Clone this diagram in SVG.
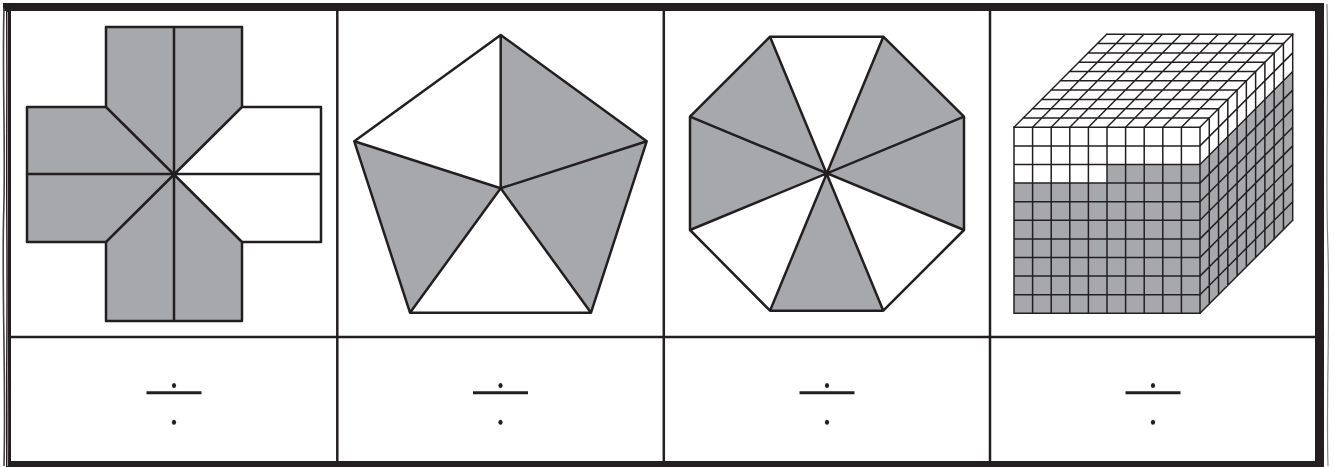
<svg xmlns="http://www.w3.org/2000/svg" width="1334" height="467" viewBox="0 0 1334 467">
<style>
.g{fill:#a7a8ab}
.w{fill:#ffffff}
.s{stroke:#231f20;stroke-width:2.5;stroke-linejoin:round;stroke-linecap:round;fill:none}
.grid{stroke:#231f20;stroke-width:1.5;fill:none;stroke-linecap:square}
.div{stroke:#231f20;stroke-width:2.5;fill:none}
.bar{stroke:#231f20;stroke-width:3;fill:none}
.dot{fill:#231f20}
</style>
<rect x="0" y="0" width="1334" height="467" fill="#ffffff"/>
<g id="frame">
<path d="M3 3 H1324 V467 H3 Z M11 11 V461 H1315 V11 Z" fill="#231f20" fill-rule="evenodd"/>
<rect x="3" y="11" width="3" height="456" fill="#ffffff"/>
<path d="M4 8 C2 80 6 150 3.5 220 C2 300 6 380 4 466" stroke="#444" stroke-width="1.6" fill="none"/>
<path d="M7.5 12 C6.5 90 8.5 170 7 250 C6.5 330 8.5 400 7.5 466" stroke="#bbb" stroke-width="0.8" fill="none"/>
<path d="M1327 4 C1329 90 1325 170 1328 250 C1330 330 1326 400 1328 466" stroke="#888" stroke-width="1.2" fill="none"/>
<line x1="11" y1="337" x2="1315" y2="337" class="div"/>
<line x1="337.3" y1="11" x2="337.3" y2="461" class="div"/>
<line x1="663.8" y1="11" x2="663.8" y2="461" class="div"/>
<line x1="990" y1="11" x2="990" y2="461" class="div"/>
</g>
<g id="cross">
<polygon class="g" points="106,27 242,27 242,107 321,107 321,242 242,242 242,321 106,321 106,242 27,242 27,107 106,107"/>
<polygon class="w" points="242,107 321,107 321,242 242,242 174,174"/>
<path class="s" d="M106 27 H242 V107 H321 V242 H242 V321 H106 V242 H27 V107 H106 Z M174 27 V321 M27 174 H321 M106 107 L242 242 M242 107 L106 242"/>
</g>
<g id="pentagon">
<polygon class="w" points="500.7,35 354.3,141.3 500.7,188.3"/>
<polygon class="g" points="500.7,35 646.7,141.3 500.7,188.3"/>
<polygon class="g" points="354.3,141.3 410,312.7 500.7,188.3"/>
<polygon class="w" points="410,312.7 591,312.7 500.7,188.3"/>
<polygon class="g" points="646.7,141.3 591,312.7 500.7,188.3"/>
<path class="s" d="M500.7 35 L646.7 141.3 L591 312.7 L410 312.7 L354.3 141.3 Z M500.7 35 V188.3 M354.3 141.3 L500.7 188.3 L646.7 141.3 M410 312.7 L500.7 188.3 L591 312.7"/>
</g>
<g id="octagon">
<polygon class="w" points="770,36.7 883.3,36.7 826.7,173.3"/>
<polygon class="g" points="883.3,36.7 964,116.7 826.7,173.3"/>
<polygon class="g" points="964,116.7 964,230 826.7,173.3"/>
<polygon class="w" points="964,230 883.3,310.7 826.7,173.3"/>
<polygon class="g" points="883.3,310.7 770,310.7 826.7,173.3"/>
<polygon class="w" points="770,310.7 690,230 826.7,173.3"/>
<polygon class="g" points="690,230 690,116.7 826.7,173.3"/>
<polygon class="g" points="690,116.7 770,36.7 826.7,173.3"/>
<path class="s" d="M770 36.7 H883.3 L964 116.7 V230 L883.3 310.7 H770 L690 230 V116.7 Z M770 36.7 L883.3 310.7 M883.3 36.7 L770 310.7 M690 116.7 L964 230 M964 116.7 L690 230"/>
</g>
<g id="cube">
<rect class="g" x="1014" y="127.3" width="186" height="186"/>
<rect class="w" x="1014" y="127.3" width="186" height="37.2"/>
<rect class="w" x="1014" y="164.5" width="93" height="18.6"/>
<polygon class="w" points="1014,127.3 1200,127.3 1292.7,34.3 1106.7,34.3"/>
<polygon class="g" points="1200,127.3 1292.7,34.3 1292.7,220.3 1200,313.3"/>
<polygon class="w" points="1200,127.3 1292.7,34.3 1292.7,71.5 1200,164.5"/>
<path class="grid" d="M1014 127.3 V313.3 M1032.6 127.3 V313.3 M1051.2 127.3 V313.3 M1069.8 127.3 V313.3 M1088.4 127.3 V313.3 M1107 127.3 V313.3 M1125.6 127.3 V313.3 M1144.2 127.3 V313.3 M1162.8 127.3 V313.3 M1181.4 127.3 V313.3 M1200 127.3 V313.3
M1014 127.3 H1200 M1014 145.9 H1200 M1014 164.5 H1200 M1014 183.1 H1200 M1014 201.7 H1200 M1014 220.3 H1200 M1014 238.9 H1200 M1014 257.5 H1200 M1014 276.1 H1200 M1014 294.7 H1200 M1014 313.3 H1200"/>
<path class="grid" d="M1014 127.3 l92.7 -93 M1032.6 127.3 l92.7 -93 M1051.2 127.3 l92.7 -93 M1069.8 127.3 l92.7 -93 M1088.4 127.3 l92.7 -93 M1107 127.3 l92.7 -93 M1125.6 127.3 l92.7 -93 M1144.2 127.3 l92.7 -93 M1162.8 127.3 l92.7 -93 M1181.4 127.3 l92.7 -93 M1200 127.3 l92.7 -93
M1023.27 118 H1209.27 M1032.54 108.7 H1218.54 M1041.81 99.4 H1227.81 M1051.08 90.1 H1237.08 M1060.35 80.8 H1246.35 M1069.62 71.5 H1255.62 M1078.89 62.2 H1264.89 M1088.16 52.9 H1274.16 M1097.43 43.6 H1283.43 M1106.7 34.3 H1292.7"/>
<path class="grid" d="M1200 145.9 l92.7 -93 M1200 164.5 l92.7 -93 M1200 183.1 l92.7 -93 M1200 201.7 l92.7 -93 M1200 220.3 l92.7 -93 M1200 238.9 l92.7 -93 M1200 257.5 l92.7 -93 M1200 276.1 l92.7 -93 M1200 294.7 l92.7 -93 M1200 313.3 l92.7 -93
M1209.27 118 V304 M1218.54 108.7 V294.7 M1227.81 99.4 V285.4 M1237.08 90.1 V276.1 M1246.35 80.8 V266.8 M1255.62 71.5 V257.5 M1264.89 62.2 V248.2 M1274.16 52.9 V238.9 M1283.43 43.6 V229.6 M1292.7 34.3 V220.3"/>
</g>
<g id="fraction1">
<line class="bar" x1="146.5" y1="392.7" x2="201.5" y2="392.7"/>
<ellipse class="dot" cx="174" cy="385.6" rx="2.1" ry="2.5"/>
<ellipse class="dot" cx="174" cy="422.3" rx="2.1" ry="2.5"/>
</g>
<g id="fraction2">
<line class="bar" x1="473" y1="392.7" x2="528" y2="392.7"/>
<ellipse class="dot" cx="500.5" cy="385.6" rx="2.1" ry="2.5"/>
<ellipse class="dot" cx="500.5" cy="422.3" rx="2.1" ry="2.5"/>
</g>
<g id="fraction3">
<line class="bar" x1="799.5" y1="392.7" x2="854.5" y2="392.7"/>
<ellipse class="dot" cx="827" cy="385.6" rx="2.1" ry="2.5"/>
<ellipse class="dot" cx="827" cy="422.3" rx="2.1" ry="2.5"/>
</g>
<g id="fraction4">
<line class="bar" x1="1125.5" y1="392.7" x2="1180.5" y2="392.7"/>
<ellipse class="dot" cx="1153" cy="385.6" rx="2.1" ry="2.5"/>
<ellipse class="dot" cx="1153" cy="422.3" rx="2.1" ry="2.5"/>
</g>
<g id="connectors"/>
</svg>
